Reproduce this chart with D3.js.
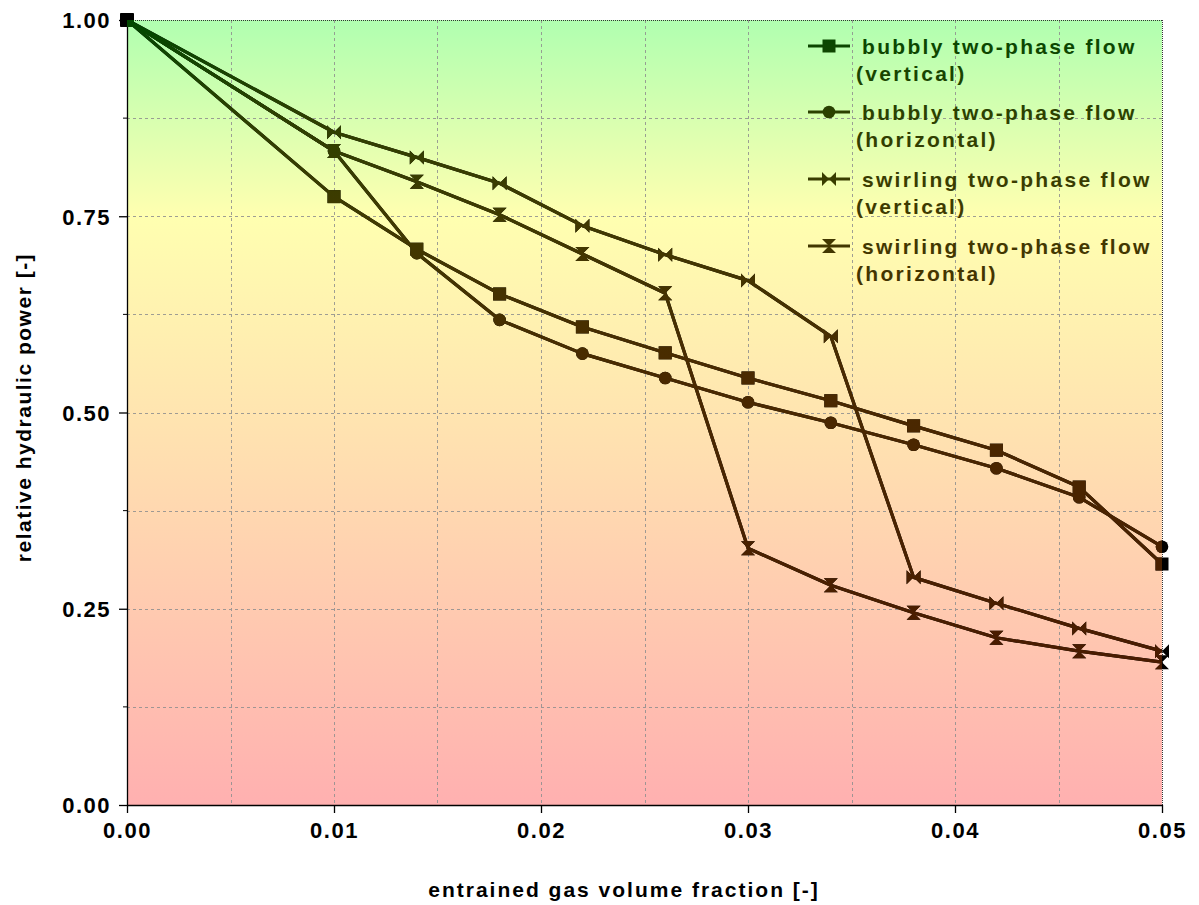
<!DOCTYPE html>
<html><head><meta charset="utf-8">
<script src="https://cdn.jsdelivr.net/npm/d3@7"></script>
<style>
body{margin:0;background:#fff;}
svg text{font-family:"Liberation Sans",Arial,sans-serif;font-weight:bold;}
</style>
</head><body>
<svg id="chart" width="1199" height="905"></svg>
<script>
// ---- data ----
const gasFraction = [0, 0.010, 0.014, 0.018, 0.022, 0.026, 0.030, 0.034, 0.038, 0.042, 0.046, 0.050];
const bubblyVertical   = [1.000, 0.775, 0.708, 0.651, 0.609, 0.576, 0.544, 0.515, 0.483, 0.452, 0.405, 0.307];
const bubblyHorizontal = [1.000, 0.833, 0.703, 0.618, 0.575, 0.544, 0.513, 0.487, 0.459, 0.429, 0.392, 0.329];
const swirlVertical    = [1.000, 0.857, 0.825, 0.792, 0.738, 0.701, 0.668, 0.597, 0.290, 0.257, 0.225, 0.196];
const swirlHorizontal  = [1.000, 0.833, 0.794, 0.752, 0.702, 0.652, 0.327, 0.280, 0.245, 0.213, 0.196, 0.182];
const seriesLabels = [
  ["bubbly two-phase flow", "(vertical)"],
  ["bubbly two-phase flow", "(horizontal)"],
  ["swirling two-phase flow", "(vertical)"],
  ["swirling two-phase flow", "(horizontal)"]
];
const xTickValues = [0, 0.01, 0.02, 0.03, 0.04, 0.05];
const yTickValues = [0, 0.25, 0.5, 0.75, 1.0];
const xGridValues = [0.005,0.01,0.015,0.02,0.025,0.03,0.035,0.04,0.045];
const yGridValues = [0.125,0.25,0.375,0.5,0.625,0.75,0.875];
const xTitle = "entrained gas volume fraction [-]";
const yTitle = "relative hydraulic power [-]";

// ---- layout ----
const W = 1199, H = 905;
const m = {left:127, right:37, top:20, bottom:100};
const pw = W - m.left - m.right, ph = H - m.top - m.bottom;
const svg = d3.select("#chart");
const x = d3.scaleLinear().domain([0, 0.05]).range([m.left, m.left + pw]);
const y = d3.scaleLinear().domain([0, 1]).range([m.top + ph, m.top]);

const defs = svg.append("defs");
const bg = defs.append("linearGradient").attr("id","bg")
  .attr("gradientUnits","userSpaceOnUse").attr("x1",0).attr("x2",0)
  .attr("y1", m.top).attr("y2", m.top+ph);
[[0,"#b0ffb0"],[0.25,"#ffffb0"],[1,"#ffb0b0"]].forEach(s=>bg.append("stop").attr("offset",s[0]).attr("stop-color",s[1]));
const ink = defs.append("linearGradient").attr("id","ink")
  .attr("gradientUnits","userSpaceOnUse").attr("x1",0).attr("x2",0)
  .attr("y1", m.top).attr("y2", m.top+ph);
[[0,"#004800"],[0.12,"#2c4000"],[0.25,"#403a00"],[0.45,"#4a2a00"],[1,"#4a1400"]].forEach(s=>ink.append("stop").attr("offset",s[0]).attr("stop-color",s[1]));
defs.append("clipPath").attr("id","plotclip").append("rect")
  .attr("x",m.left).attr("y",m.top).attr("width",pw).attr("height",ph);

// background
svg.append("rect").attr("x",m.left).attr("y",m.top).attr("width",pw).attr("height",ph).attr("fill","url(#bg)");

// grid
const grid = svg.append("g").attr("stroke","#8f8f8f").attr("stroke-width",1).attr("stroke-dasharray","3,3").attr("opacity",0.85);
grid.selectAll("line.gx").data(xGridValues).join("line")
  .attr("x1",d=>Math.round(x(d))+0.5).attr("x2",d=>Math.round(x(d))+0.5).attr("y1",m.top).attr("y2",m.top+ph);
grid.selectAll("line.gy").data(yGridValues).join("line")
  .attr("y1",d=>Math.round(y(d))+0.5).attr("y2",d=>Math.round(y(d))+0.5).attr("x1",m.left).attr("x2",m.left+pw);

// top & right dotted frame
svg.append("line").attr("x1",m.left).attr("x2",m.left+pw).attr("y1",m.top+0.5).attr("y2",m.top+0.5)
  .attr("stroke","#333").attr("stroke-dasharray","1,1");
svg.append("line").attr("x1",m.left+pw+0.5).attr("x2",m.left+pw+0.5).attr("y1",m.top).attr("y2",m.top+ph)
  .attr("stroke","#333").attr("stroke-dasharray","1,1");

// axes
const fmt2 = d3.format(".2f");
const xAxis = d3.axisBottom(x).tickValues(xTickValues).tickFormat(fmt2).tickSize(8).tickSizeOuter(0);
const yAxis = d3.axisLeft(y).tickValues(yTickValues).tickFormat(fmt2).tickSize(8).tickSizeOuter(0);
const gx = svg.append("g").attr("transform",`translate(0,${m.top+ph})`).call(xAxis);
const gy = svg.append("g").attr("transform",`translate(${m.left},0)`).call(yAxis);
// minor y ticks
svg.append("g").selectAll("line").data([0.125,0.375,0.625,0.875]).join("line")
  .attr("x1",m.left-4).attr("x2",m.left).attr("y1",d=>y(d)).attr("y2",d=>y(d)).attr("stroke","#000");
[gx,gy].forEach(g=>{
  g.select(".domain").attr("stroke","#000").attr("stroke-width",1.3);
  g.selectAll(".tick line").attr("stroke","#000").attr("stroke-width",1.3);
  g.selectAll(".tick text").attr("fill","#000").attr("font-size",22).attr("letter-spacing",1.5)
    .attr("font-family",'"Liberation Sans",Arial,sans-serif').attr("font-weight","bold");
});
gx.selectAll(".tick text").attr("dy","1.0em");
gy.selectAll(".tick text").attr("x",-16).attr("dy","0.36em");

// titles
svg.append("text").attr("x",624).attr("y",897).attr("text-anchor","middle")
  .attr("font-size",21).attr("letter-spacing",2.0).attr("fill","#000").text(xTitle);
svg.append("text").attr("transform",`translate(31,${m.top+ph/2-5}) rotate(-90)`).attr("text-anchor","middle")
  .attr("font-size",21).attr("letter-spacing",1.5).attr("fill","#000").text(yTitle);

// marker shapes
const bowtie = {draw(ctx,size){const r=Math.sqrt(size)/2;ctx.moveTo(-r,-r);ctx.lineTo(0,0);ctx.lineTo(-r,r);ctx.closePath();ctx.moveTo(r,-r);ctx.lineTo(0,0);ctx.lineTo(r,r);ctx.closePath();}};
const hourglass = {draw(ctx,size){const r=Math.sqrt(size)/2;ctx.moveTo(-r,-r);ctx.lineTo(r,-r);ctx.lineTo(0,0);ctx.closePath();ctx.moveTo(-r,r);ctx.lineTo(r,r);ctx.lineTo(0,0);ctx.closePath();}};
// draw a symbol at absolute coordinates (so userSpaceOnUse gradients map correctly)
function symbolAt(type, size, cx, cy){
  const p = d3.path();
  const ctx = {
    moveTo:(a,b)=>p.moveTo(a+cx,b+cy),
    lineTo:(a,b)=>p.lineTo(a+cx,b+cy),
    closePath:()=>p.closePath(),
    arc:(a,b,r,a0,a1,ccw)=>p.arc(a+cx,b+cy,r,a0,a1,ccw),
    rect:(a,b,w,h)=>p.rect(a+cx,b+cy,w,h)
  };
  type.draw(ctx, size);
  return p.toString();
}
const series = [
  {values:bubblyVertical,   type:d3.symbolSquare, size:169},
  {values:bubblyHorizontal, type:d3.symbolCircle, size:125},
  {values:swirlVertical,    type:bowtie,          size:196},
  {values:swirlHorizontal,  type:hourglass,       size:196}
];
const line = d3.line().x((d,i)=>x(gasFraction[i])).y(d=>y(d));

function drawSeries(parent, color){
  series.forEach(s=>{
    parent.append("path").attr("d",line(s.values)).attr("fill","none")
      .attr("stroke",color).attr("stroke-width",3.2).attr("stroke-linejoin","round");
  });
  series.forEach(s=>{
    parent.append("g").selectAll("path").data(s.values).join("path")
      .attr("d",(d,i)=>symbolAt(s.type, s.size, x(gasFraction[i]), y(d))).attr("fill",color);
  });
}
drawSeries(svg.append("g"), "#000");
drawSeries(svg.append("g").attr("clip-path","url(#plotclip)"), "url(#ink)");

// legend
const legendRows = [46, 112, 179, 246];
const lg = svg.append("g");
series.forEach((s,i)=>{
  const cy = legendRows[i];
  lg.append("line").attr("x1",808).attr("x2",850).attr("y1",cy).attr("y2",cy)
    .attr("stroke","url(#ink)").attr("stroke-width",3.2);
  lg.append("path").attr("d",symbolAt(s.type, s.size, 829, cy)).attr("fill","url(#ink)");
  lg.append("text").attr("x",862).attr("y",cy+8).attr("font-size",21).attr("letter-spacing",2.3)
    .attr("fill","url(#ink)").text(seriesLabels[i][0]);
  lg.append("text").attr("x",856).attr("y",cy+35).attr("font-size",21).attr("letter-spacing",2.3)
    .attr("fill","url(#ink)").text(seriesLabels[i][1]);
});
</script>
</body></html>
